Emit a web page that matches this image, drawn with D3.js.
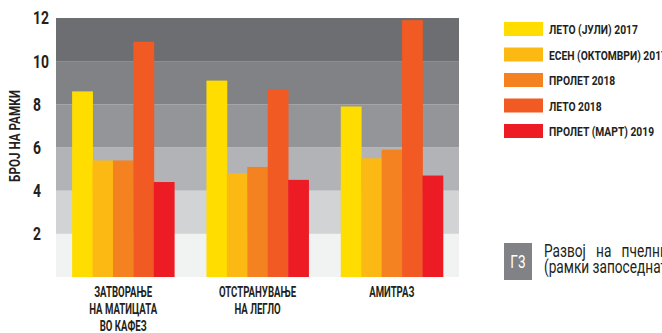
<!DOCTYPE html>
<html><head><meta charset="utf-8">
<script src="https://cdn.jsdelivr.net/npm/d3@7"></script>
<style>
body{margin:0;background:#fff;}
svg text{font-family:Roboto,"DejaVu Sans",sans-serif;fill:#231f20;}
</style></head><body>
<svg id="c" width="662" height="333"></svg>
<script>
const categories = [["ЗАТВОРАЊЕ","НА МАТИЦАТА","ВО КАФЕЗ"],["ОТСТРАНУВАЊЕ","НА ЛЕГЛО"],["АМИТРАЗ"]];
const seriesNames = ["ЛЕТО (ЈУЛИ) 2017","ЕСЕН (ОКТОМВРИ) 2017","ПРОЛЕТ 2018","ЛЕТО 2018","ПРОЛЕТ (МАРТ) 2019"];
const seriesColors = ["#ffdd00","#fdb913","#f58220","#f15a22","#ed1c24"];
const values = [
  [8.6, 5.4, 5.4, 10.9, 4.4],
  [9.1, 4.8, 5.1, 8.7, 4.5],
  [7.9, 5.5, 5.9, 11.9, 4.7]
];
const yTicks = [2,4,6,8,10,12];
const bandColors = ["#f1f2f2","#d1d3d4","#b1b3b6","#939598","#808285","#6d6e71"];
const yTitle = "БРОЈ НА РАМКИ";
const captionLabel = "Г3";
const captionLines = ["Развој на пчелните семејства","(рамки запоседнати со пчели)"];

const svg = d3.select("#c");
const L=56,R=459,T=18,B=277;
const x0 = d3.scaleBand().domain(d3.range(categories.length)).range([L,R]).paddingInner(0.24).paddingOuter(0.12);
const x1 = d3.scaleBand().domain(d3.range(seriesNames.length)).range([0,x0.bandwidth()]);
const y = d3.scaleLinear().domain([0,12]).range([B,T]);

function condense(sel, ax, sx){ sel.attr("transform",`translate(${ax},0) scale(${sx},1) translate(${-ax},0)`); }
function widthOf(node){ return node.getComputedTextLength(); }

// background bands
const bandStarts = [0,2,4,6,8,10];
svg.append("g").selectAll("rect").data(bandStarts).join("rect")
  .attr("x",L).attr("width",R-L)
  .attr("y",d=>y(d+2)).attr("height",d=>y(d)-y(d+2))
  .attr("fill",(d,i)=>bandColors[i]);

// bars
const g = svg.append("g");
values.forEach((row,ci)=>{
  g.append("g").attr("transform",`translate(${x0(ci)},0)`)
   .selectAll("rect").data(row).join("rect")
   .attr("x",(d,i)=>x1(i)).attr("width",x1.bandwidth()+0.4)
   .attr("y",d=>y(d)).attr("height",d=>y(0)-y(d))
   .attr("fill",(d,i)=>seriesColors[i]);
});

// y tick labels
const tk = svg.append("g").selectAll("text").data(yTicks).join("text")
  .attr("x",33).attr("y",d=>y(d)).attr("dy","0.36em")
  .attr("font-size",18).attr("font-weight",700)
  .text(d=>d);
{ const sx = 16/widthOf(tk.filter(d=>d===12).node()); tk.each(function(){ condense(d3.select(this),33,sx); }); }

// y title
const yt = svg.append("text").attr("text-anchor","middle").attr("font-size",15).attr("font-weight",700).attr("x",0).attr("y",0)
  .text(yTitle);
{ const sx = 92/widthOf(yt.node()); yt.attr("transform",`translate(20,136) rotate(-90) scale(${sx},1)`); }

// category labels
let catSx = null;
categories.forEach((lines,ci)=>{
  const cx = x0(ci)+x0.bandwidth()/2;
  const t = svg.append("text").attr("text-anchor","middle").attr("font-size",14).attr("font-weight",700);
  lines.forEach((ln,li)=>{
    const sp = t.append("tspan").attr("x",cx).attr("y",297+li*17).text(ln);
    if(catSx===null) catSx = 58/widthOf(sp.node());
  });
  condense(t,cx,catSx);
});

// legend
const lg = svg.append("g");
let legSx = null;
seriesNames.forEach((n,i)=>{
  const yy = 22 + i*25.5;
  lg.append("rect").attr("x",504).attr("y",yy).attr("width",39).attr("height",14).attr("fill",seriesColors[i]);
  const t = lg.append("text").attr("x",549).attr("y",yy+12.3).attr("font-size",12.5).attr("font-weight",700).text(n);
  if(legSx===null) legSx = 89/widthOf(t.node());
  condense(t,549,legSx);
});

// caption
svg.append("rect").attr("x",504).attr("y",243).attr("width",28).attr("height",37).attr("fill","#808285");
const cl = svg.append("text").attr("x",518).attr("y",268).attr("text-anchor","middle").attr("font-size",19)
  .style("fill","#fff").text(captionLabel);
condense(cl,518,0.72);
const ct = svg.append("text").attr("font-size",18).attr("font-weight",400);
ct.append("tspan").attr("x",544).attr("y",257).attr("word-spacing",9).text(captionLines[0]);
ct.append("tspan").attr("x",544).attr("y",273).text(captionLines[1]);
condense(ct,544,0.76);
</script>
</body></html>
